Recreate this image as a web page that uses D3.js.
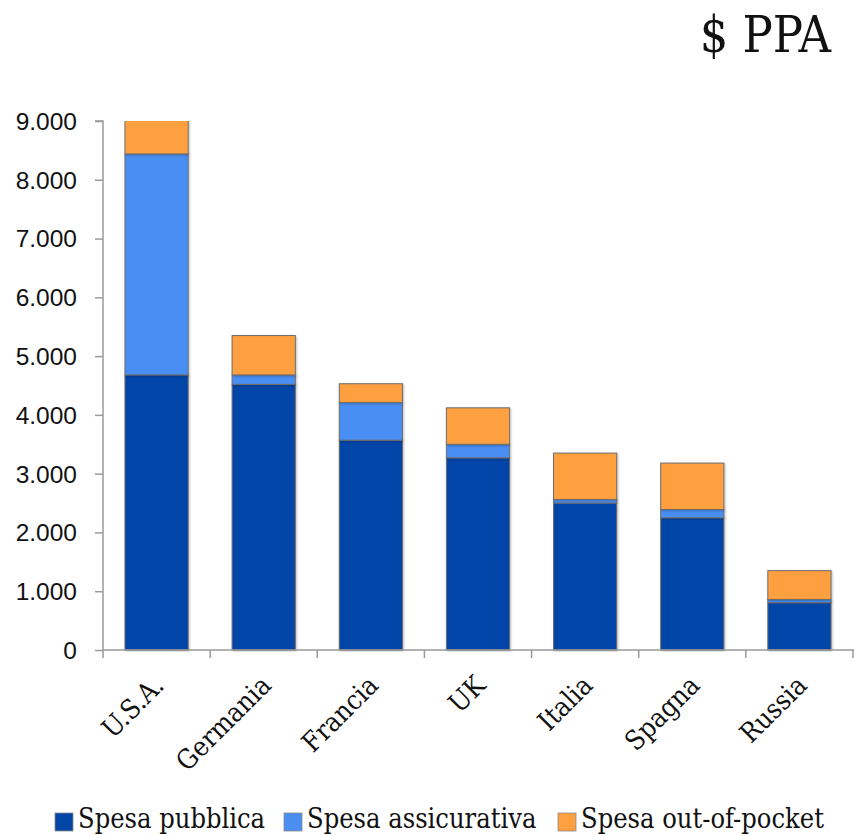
<!DOCTYPE html>
<html><head><meta charset="utf-8">
<script src="https://cdn.jsdelivr.net/npm/d3@7"></script>
<style>
body{margin:0;background:#fff;}
svg{display:block;}
.slab{font-family:"DejaVu Serif Condensed","DejaVu Serif",serif;font-stretch:condensed;}
</style></head>
<body>
<script>
const categories = ["U.S.A.","Germania","Francia","UK","Italia","Spagna","Russia"];
const seriesNames = ["Spesa pubblica","Spesa assicurativa","Spesa out-of-pocket"];
const spesaPubblica = [4680, 4520, 3570, 3270, 2500, 2250, 805];
const spesaAssicurativa = [3760, 160, 640, 230, 60, 140, 55];
const spesaOutOfPocket = [1010, 670, 320, 620, 790, 790, 490];
const yTicks = [0,1000,2000,3000,4000,5000,6000,7000,8000,9000];
const colors = ["#0145a7","#4a8ef2","#fea03f"];
const title = "$ PPA";

const W = 854, H = 835;
const m = {left:103, right:1, top:121, bottom:185};
const svg = d3.select("body").append("svg").attr("width",W).attr("height",H);

const x = d3.scaleBand().domain(categories).range([m.left, W - m.right]).paddingInner(0.41).paddingOuter(0.205);
const y = d3.scaleLinear().domain([0, 9000]).range([H - m.bottom, m.top]);

const rows = categories.map((c,i)=>({cat:c, "Spesa pubblica":spesaPubblica[i], "Spesa assicurativa":spesaAssicurativa[i], "Spesa out-of-pocket":spesaOutOfPocket[i]}));
const stacked = d3.stack().keys(seriesNames)(rows);

const defs = svg.append("defs");
defs.append("clipPath").attr("id","plotclip").append("rect")
  .attr("x", m.left).attr("y", y(9000)).attr("width", W - m.left).attr("height", y(0) - y(9000) + 2);
const f = defs.append("filter").attr("id","sh").attr("x","-20%").attr("y","-20%").attr("width","140%").attr("height","140%");
f.append("feDropShadow").attr("dx",1).attr("dy",1).attr("stdDeviation",1.2).attr("flood-color","#000").attr("flood-opacity",0.25);

const g = svg.append("g").attr("clip-path","url(#plotclip)");
stacked.forEach((s,k)=>{
  g.append("g").selectAll("rect").data(s).join("rect")
    .attr("x", d=>x(d.data.cat))
    .attr("width", x.bandwidth())
    .attr("y", d=>y(d[1]))
    .attr("height", d=>y(d[0]) - y(d[1]))
    .attr("fill", colors[k])
    .attr("stroke","#6d6d6d").attr("stroke-width",1)
    .attr("filter","url(#sh)");
});

// Y axis
const yAxis = svg.append("g").attr("transform",`translate(${m.left},0)`)
  .call(d3.axisLeft(y).tickValues(yTicks).tickSize(8).tickPadding(18)
    .tickFormat(d=>d3.format(",")(d).replace(/,/g,".")));
yAxis.select(".domain").attr("stroke","#9a9a9a").attr("stroke-width",1.5).attr("d",`M-8,${y(9000)}H0V${y(0)}`);
yAxis.selectAll(".tick line").attr("stroke","#9a9a9a").attr("stroke-width",1.5);
yAxis.selectAll("text").attr("font-family","'Liberation Sans',Arial,sans-serif").attr("font-size",24.5).attr("fill","#111").attr("dy","0.34em");

// X axis
const xAxis = svg.append("g").attr("transform",`translate(0,${y(0)})`)
  .call(d3.axisBottom(x).tickSize(0).tickPadding(0));
xAxis.select(".domain").attr("stroke","#9a9a9a").attr("stroke-width",1.5).attr("d",`M${m.left},0H${W}`);
const bounds = d3.range(categories.length+1).map(i=>m.left + i*x.step());
xAxis.selectAll(".bnd").data(bounds).join("line").attr("class","bnd")
  .attr("x1",d=>d).attr("x2",d=>d).attr("y1",0).attr("y2",8)
  .attr("stroke","#9a9a9a").attr("stroke-width",1.5);
xAxis.selectAll(".tick text")
  .attr("class","slab")
  .attr("font-size",27).attr("fill","#111")
  .attr("text-anchor","end")
  .attr("dy",0)
  .attr("transform","translate(9,37) rotate(-45)");

// Title
svg.append("text").attr("class","slab").attr("x",831).attr("y",52).attr("text-anchor","end")
  .attr("font-size",50).attr("fill","#111").text(title);

// Legend
const legendX = [55, 284, 558];
const lg = svg.append("g");
seriesNames.forEach((n,i)=>{
  lg.append("rect").attr("x",legendX[i]).attr("y",813).attr("width",18).attr("height",18)
    .attr("fill",colors[i]).attr("stroke","#8a8a8a").attr("stroke-width",0.8);
  lg.append("text").attr("class","slab").attr("x",legendX[i]+23).attr("y",828)
    .attr("font-size",27).attr("fill","#111").text(n);
});
</script>
</body></html>
